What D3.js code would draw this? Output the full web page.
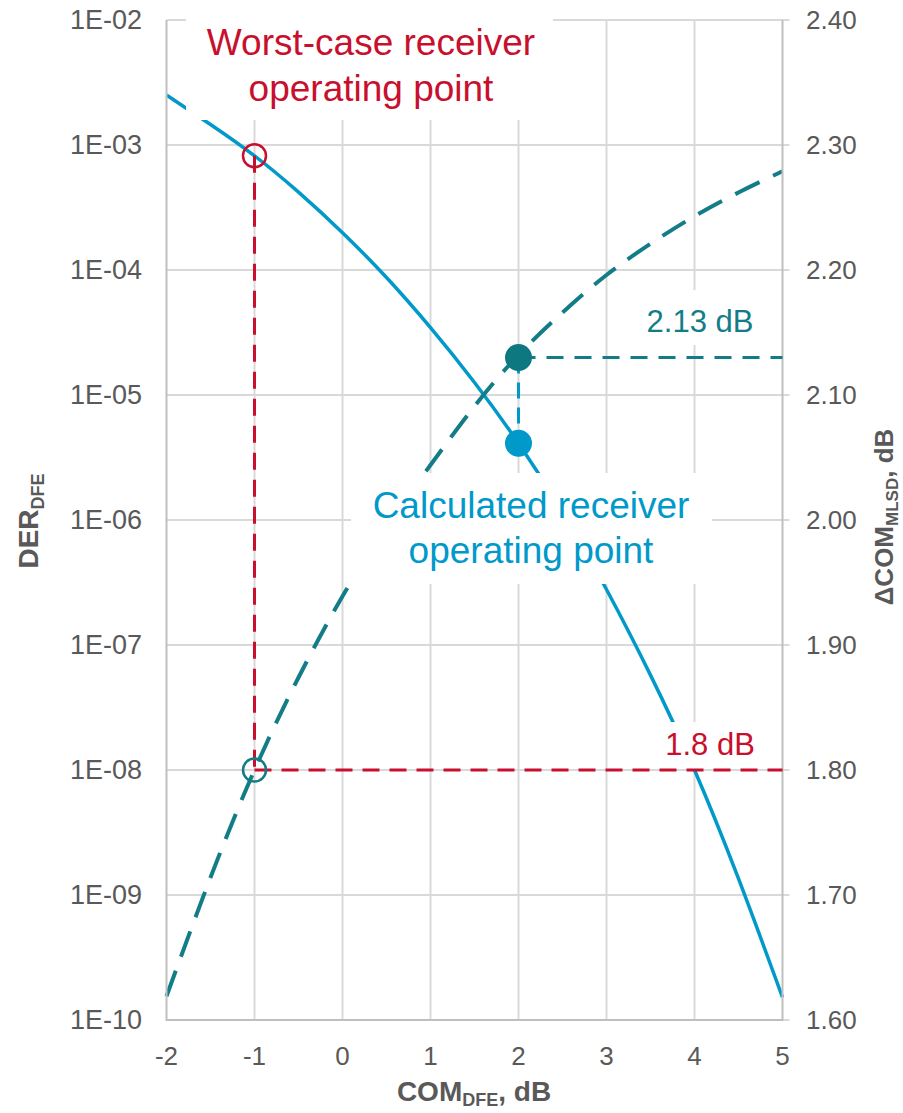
<!DOCTYPE html>
<html>
<head>
<meta charset="utf-8">
<script src="https://cdn.jsdelivr.net/npm/d3@7"></script>
<style>
  html, body { margin: 0; padding: 0; background: #fff; }
  svg { display: block; font-family: "Liberation Sans", Arial, sans-serif; }
</style>
</head>
<body>
<svg id="chart" width="903" height="1113"></svg>
<script>
// COM_DFE (dB) sample positions
const comDfe = [-2, -1.5, -1, -0.5, 0, 0.5, 1, 1.5, 2, 2.5, 3, 3.5, 4, 4.5, 5];
// DER_DFE (left, log axis)
const derDfe = [2.51e-3, 1.46e-3, 8.2e-4, 4.2e-4, 1.99e-4, 8.7e-5, 3.46e-5, 1.26e-5, 4.11e-6,
                1.16e-6, 2.78e-7, 5.74e-8, 1.0e-8, 1.35e-9, 1.52e-10];
// ΔCOM_MLSD (dB, right axis)
const deltaComMlsd = [1.619, 1.714, 1.80, 1.874, 1.939, 1.995, 2.044, 2.091, 2.132,
                      2.166, 2.196, 2.221, 2.243, 2.262, 2.279];

const xTicks = [-2, -1, 0, 1, 2, 3, 4, 5];
const leftTicks = [1e-2, 1e-3, 1e-4, 1e-5, 1e-6, 1e-7, 1e-8, 1e-9, 1e-10];
const leftTickLabels = ["1E-02", "1E-03", "1E-04", "1E-05", "1E-06", "1E-07", "1E-08", "1E-09", "1E-10"];
const rightTicks = [2.4, 2.3, 2.2, 2.1, 2.0, 1.9, 1.8, 1.7, 1.6];

// Operating points
const worstCase = { com: -1, der: 8.2e-4, delta: 1.80 };
const calculated = { com: 2, der: 4.11e-6, delta: 2.13 };

const C = {
  grid: "#d9d9d9", axis: "#bfbfbf", text: "#595959",
  blue: "#0099c9", teal: "#127d87", tealDot: "#0e7881", red: "#c8102e"
};

const svg = d3.select("#chart");
const L = 166.5, R = 782.5, T = 20, B = 1020;

const x = d3.scaleLinear().domain([-2, 5]).range([L, R]);
const yL = d3.scaleLog().domain([1e-10, 1e-2]).range([B, T]);
const yR = d3.scaleLinear().domain([1.6, 2.4]).range([B, T]);

// grid
const grid = svg.append("g");
grid.selectAll(".vg").data(xTicks.slice(1, -1)).join("line")
  .attr("x1", d => x(d)).attr("x2", d => x(d)).attr("y1", T).attr("y2", B)
  .attr("stroke", C.grid).attr("stroke-width", 2);
grid.selectAll(".hg").data(leftTicks.slice(0, -1)).join("line")
  .attr("x1", L).attr("x2", R + 7).attr("y1", d => yL(d)).attr("y2", d => yL(d))
  .attr("stroke", C.grid).attr("stroke-width", 2);
grid.append("line").attr("x1", R).attr("x2", R + 7).attr("y1", B).attr("y2", B)
  .attr("stroke", C.grid).attr("stroke-width", 2);

// white label backgrounds hide the grid and curves beneath the annotations
const boxes = [
  [186, 0, 553, 120],
  [351, 473, 712, 584],
  [622, 290, 776, 345],
  [644, 722, 776, 769]
];

// curves
const derLine = d3.line().x((d, i) => x(comDfe[i])).y(d => yL(d)).curve(d3.curveNatural);
const deltaLine = d3.line().x((d, i) => x(comDfe[i])).y(d => yR(d)).curve(d3.curveNatural);

svg.append("path").attr("d", derLine(derDfe))
  .attr("fill", "none").attr("stroke", C.blue).attr("stroke-width", 3.5);
svg.append("path").attr("d", deltaLine(deltaComMlsd))
  .attr("fill", "none").attr("stroke", C.teal).attr("stroke-width", 4)
  .attr("stroke-dasharray", "27,15");

svg.append("g").selectAll("rect").data(boxes).join("rect")
  .attr("x", d => d[0]).attr("y", d => d[1])
  .attr("width", d => d[2] - d[0]).attr("height", d => d[3] - d[1])
  .attr("fill", "#fff");

// axis lines
const ax = svg.append("g").attr("stroke", C.axis).attr("stroke-width", 2);
ax.append("line").attr("x1", L).attr("x2", L).attr("y1", T).attr("y2", B + 1);
ax.append("line").attr("x1", R).attr("x2", R).attr("y1", T).attr("y2", B + 1);
ax.append("line").attr("x1", L).attr("x2", R).attr("y1", B).attr("y2", B);

// reference lines
svg.append("line")
  .attr("x1", x(worstCase.com)).attr("x2", x(worstCase.com))
  .attr("y1", yL(worstCase.der)).attr("y2", yR(worstCase.delta))
  .attr("stroke", C.red).attr("stroke-width", 3).attr("stroke-dasharray", "17,10");
svg.append("line")
  .attr("x1", x(worstCase.com)).attr("x2", R)
  .attr("y1", yR(worstCase.delta)).attr("y2", yR(worstCase.delta))
  .attr("stroke", C.red).attr("stroke-width", 3).attr("stroke-dasharray", "17,10");
svg.append("line")
  .attr("x1", x(calculated.com)).attr("x2", R)
  .attr("y1", yR(calculated.delta)).attr("y2", yR(calculated.delta))
  .attr("stroke", C.teal).attr("stroke-width", 3).attr("stroke-dasharray", "17,11");
svg.append("line")
  .attr("x1", x(calculated.com)).attr("x2", x(calculated.com))
  .attr("y1", yR(calculated.delta)).attr("y2", yL(calculated.der))
  .attr("stroke", C.blue).attr("stroke-width", 3).attr("stroke-dasharray", "16,9");

// markers
svg.append("circle").attr("cx", x(worstCase.com)).attr("cy", yL(worstCase.der)).attr("r", 11.5)
  .attr("fill", "none").attr("stroke", C.red).attr("stroke-width", 2.5);
svg.append("circle").attr("cx", x(worstCase.com)).attr("cy", yR(worstCase.delta)).attr("r", 11.5)
  .attr("fill", "none").attr("stroke", C.teal).attr("stroke-width", 2.5);
svg.append("circle").attr("cx", x(calculated.com)).attr("cy", yR(calculated.delta)).attr("r", 13.5)
  .attr("fill", C.tealDot);
svg.append("circle").attr("cx", x(calculated.com)).attr("cy", yL(calculated.der)).attr("r", 13.5)
  .attr("fill", C.blue);

// tick labels
const tl = svg.append("g").attr("fill", C.text).attr("font-size", 26);
tl.selectAll(".lt").data(leftTicks).join("text")
  .attr("x", 142).attr("y", d => yL(d)).attr("dy", "0.35em").attr("text-anchor", "end")
  .attr("font-size", 27)
  .text((d, i) => leftTickLabels[i]);
tl.selectAll(".rt").data(rightTicks).join("text")
  .attr("x", 806).attr("y", d => yR(d)).attr("dy", "0.35em").attr("text-anchor", "start")
  .text(d => d3.format(".2f")(d));
tl.selectAll(".xt").data(xTicks).join("text")
  .attr("x", d => x(d)).attr("y", 1065).attr("text-anchor", "middle")
  .text(d => d);

// axis titles
const xt = svg.append("text").attr("x", 474).attr("y", 1101).attr("text-anchor", "middle")
  .attr("fill", C.text).attr("font-weight", "bold").attr("font-size", 28);
xt.append("tspan").text("COM");
xt.append("tspan").attr("font-size", 18).attr("dy", 5).text("DFE");
xt.append("tspan").attr("dy", -5).text(", dB");

const yt = svg.append("text").attr("transform", "translate(38,521) rotate(-90)")
  .attr("text-anchor", "middle").attr("fill", C.text).attr("font-weight", "bold").attr("font-size", 28);
yt.append("tspan").text("DER");
yt.append("tspan").attr("font-size", 18).attr("dy", 6).text("DFE");

const rt = svg.append("text").attr("transform", "translate(893,517) rotate(-90)")
  .attr("text-anchor", "middle").attr("fill", C.text).attr("font-weight", "bold").attr("font-size", 26);
rt.append("tspan").text("ΔCOM");
rt.append("tspan").attr("font-size", 17).attr("dy", 5).text("MLSD");
rt.append("tspan").attr("dy", -5).text(", dB");

// annotations
const ann = (lines, cx, y0, lh, size, color) => {
  const t = svg.append("text").attr("text-anchor", "middle").attr("fill", color).attr("font-size", size);
  lines.forEach((s, i) => t.append("tspan").attr("x", cx).attr("y", y0 + i * lh).text(s));
};
ann(["Worst-case receiver", "operating point"], 371, 55, 46, 37, C.red);
ann(["Calculated receiver", "operating point"], 531, 518, 45, 37, C.blue);
ann(["2.13 dB"], 700, 332, 0, 31, C.teal);
ann(["1.8 dB"], 710, 755, 0, 31, C.red);
</script>
</body>
</html>
